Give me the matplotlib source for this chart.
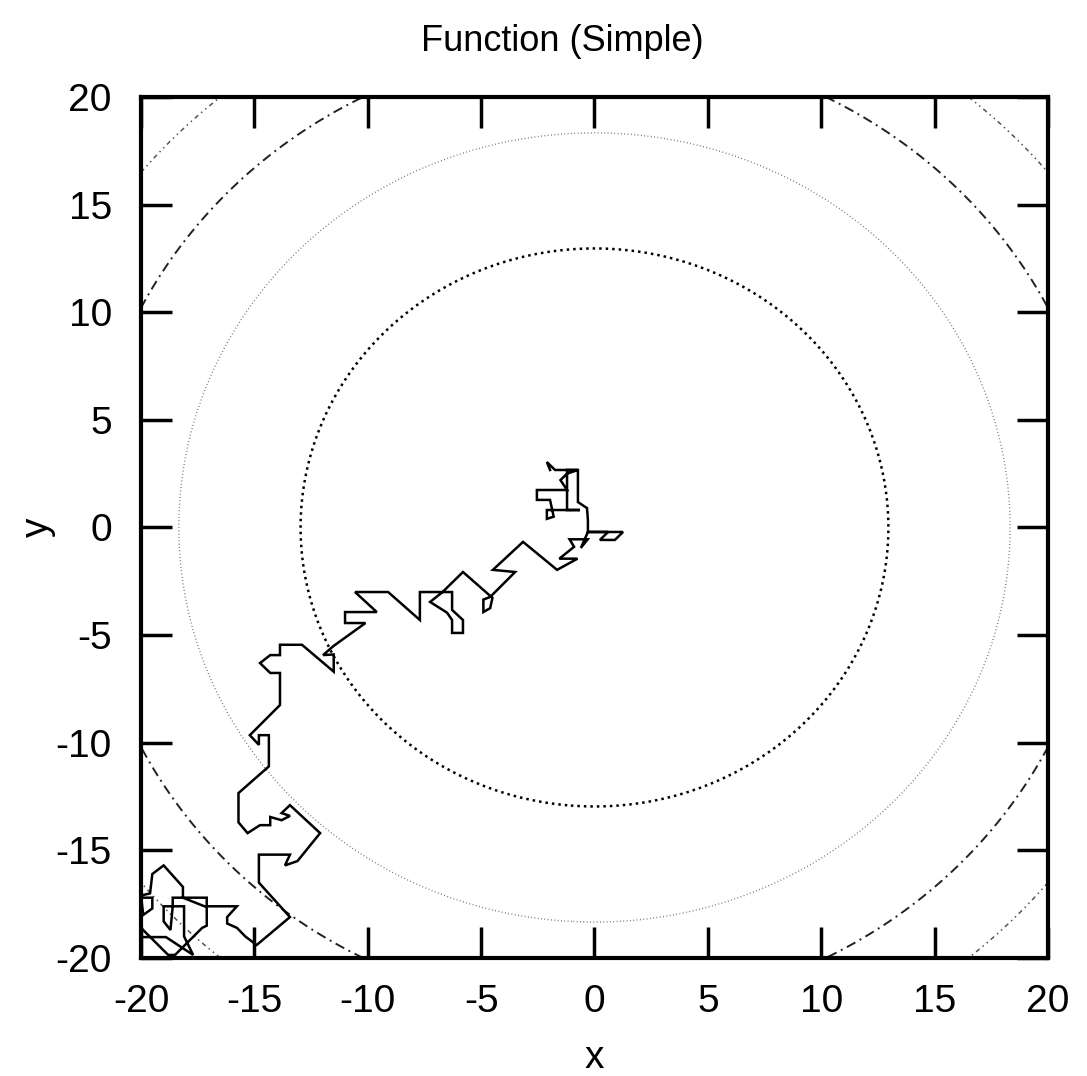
import numpy as np
import matplotlib
matplotlib.use("Agg")
import matplotlib.pyplot as plt

plt.rcParams['font.family'] = ['Liberation Sans', 'DejaVu Sans']

title = "Function (Simple)"
x_label = "x"
y_label = "y"
ticks = [-20, -15, -10, -5, 0, 5, 10, 15, 20]
contour_levels = [168, 336, 504, 672]

# Search path (x, y)
path_x = [-20.0, -18.8, -18.5, -17.3, -17.1, -17.1, -18.6, -18.6, -19.0, -19.0, -18.7,
          -18.6, -18.1, -18.1, -17.7, -18.9, -20.0, -20.0, -19.5, -19.5, -19.9,
          -20.0, -19.6, -19.5, -19.0, -18.15, -18.15, -17.2, -15.77, -16.2, -16.2,
          -15.77, -15.4, -14.9, -13.43, -14.8, -14.8, -13.43, -13.65, -13.1, -12.1,
          -13.43, -13.8, -13.43, -13.8, -14.3, -14.3, -14.75, -15.3, -15.7, -15.7,
          -14.36, -14.36, -14.8, -14.8, -15.2, -13.87, -13.87, -14.3, -14.75, -14.3,
          -13.87, -13.87, -12.9, -11.5, -11.5, -11.97, -11.5, -10.1, -11.0, -11.0,
          -9.6, -10.56, -9.1, -7.7, -7.7, -6.28, -6.28, -5.8, -5.8, -6.28, -6.28,
          -6.5, -7.25, -6.7, -5.8, -4.5, -4.6, -4.9, -4.9, -4.6, -3.5, -4.48, -3.15,
          -1.65, -0.75, -1.55, -0.9, -1.1, -0.3, -0.6, -0.29, 1.26, 0.9, 0.24, 0.6,
          -0.29, -0.29, -0.33, -0.73, -0.73, -1.21, -1.21, -0.64, -2.1, -2.1, -1.8,
          -1.96, -2.54, -2.54, -1.21, -1.5, -1.21, -0.73, -1.74, -2.1, -1.96]
path_y = [-18.6, -19.86, -19.86, -18.6, -18.5, -17.2, -17.2, -17.6, -17.6, -18.3, -18.7,
          -17.6, -17.6, -19.0, -19.86, -19.03, -19.03, -17.2, -17.2, -17.7, -18.0,
          -17.1, -17.0, -16.1, -15.7, -16.7, -17.2, -17.6, -17.6, -18.1, -18.4,
          -18.6, -19.0, -19.4, -18.1, -16.5, -15.2, -15.2, -15.7, -15.5, -14.2,
          -12.9, -13.27, -13.4, -13.6, -13.45, -13.83, -13.83, -14.2, -13.7, -12.34,
          -11.1, -9.65, -9.65, -10.1, -9.65, -8.25, -6.76, -6.76, -6.3, -5.93,
          -5.93, -5.45, -5.45, -6.7, -5.9, -5.93, -5.5, -4.44, -4.44, -3.93,
          -3.93, -3.0, -3.0, -4.3, -3.0, -3.0, -3.83, -4.3, -4.9, -4.9, -4.3,
          -3.96, -3.46, -3.0, -2.07, -3.27, -3.75, -3.93, -3.35, -3.23, -2.07, -1.97, -0.67,
          -1.97, -1.45, -1.45, -0.9, -0.55, -0.55, -0.95, -0.21, -0.21, -0.58, -0.58, -0.21,
          -0.21, 0.35, 0.9, 1.18, 2.67, 2.67, 0.81, 0.81, 0.81, 0.4, 0.5,
          1.28, 1.28, 1.74, 1.74, 2.2, 2.5, 2.67, 2.67, 3.04, 2.67]

fig = plt.figure(figsize=(10.87, 10.76), dpi=100)
ax = fig.add_axes([0.1297, 0.1097, 0.8344, 0.8002])

gx = np.linspace(-20, 20, 401)
gy = np.linspace(-20, 20, 401)
GX, GY = np.meshgrid(gx, gy)
F = GX**2 + GY**2

styles = [(0, (1.0, 1.6)), (0, (0.6, 1.8)), (0, (5, 2.5, 1, 2.5)), (0, (3, 2.5, 1, 2.5, 1, 2.5))]
colors = ['#000000', '#666666', '#222222', '#555555']
widths = [1.8, 1.0, 1.4, 1.1]
for lev, ls, c, w in zip(contour_levels, styles, colors, widths):
    ax.contour(GX, GY, F, levels=[lev], colors=c, linewidths=w, linestyles=[ls])

ax.plot(path_x, path_y, color='black', linewidth=1.8, solid_joinstyle='miter')

ax.set_xlim(-20, 20)
ax.set_ylim(-20, 20)
ax.set_xticks(ticks)
ax.set_yticks(ticks)
ax.set_xticklabels([str(t) for t in ticks])
ax.set_yticklabels([str(t) for t in ticks])
ax.tick_params(direction='in', length=22, width=2.5, top=True, right=True,
               labelsize=28)
ax.tick_params(axis='x', pad=19)
ax.tick_params(axis='y', pad=21)
for s in ax.spines.values():
    s.set_linewidth(3)

fig.text(0.517, 0.961, title, fontsize=26, ha='center', va='center')
ax.set_xlabel(x_label, fontsize=28, labelpad=14)
ax.set_ylabel(y_label, fontsize=28, labelpad=0)

fig.savefig("out.png", dpi=100)
